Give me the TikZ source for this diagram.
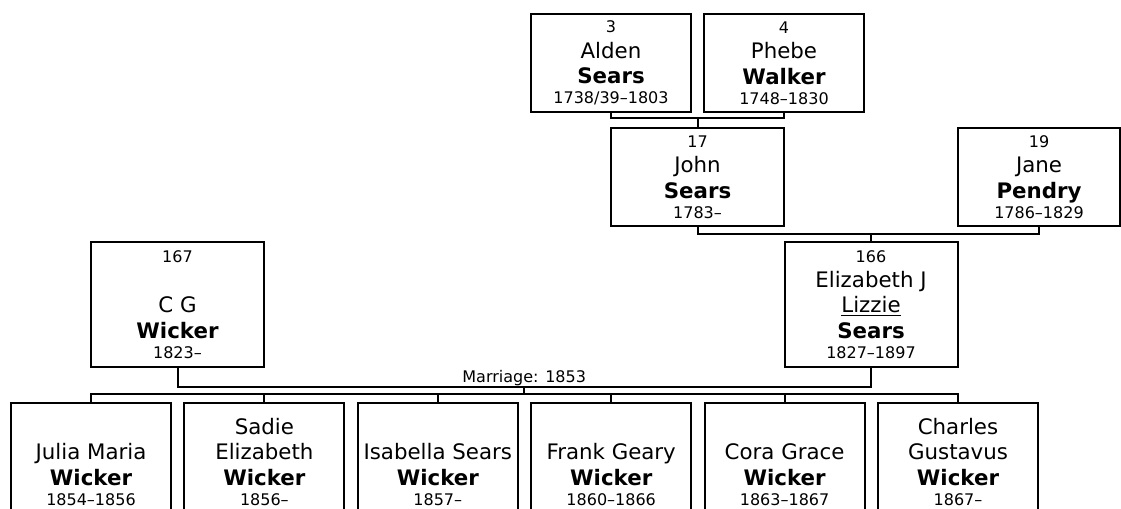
\documentclass[tikz,border=0pt]{standalone}
\usepackage{fontspec}
\setmainfont{DejaVu Sans}
\usetikzlibrary{positioning}
\newcommand{\numf}{\fontsize{12}{14}\selectfont}
\newcommand{\namef}{\fontsize{16}{19}\selectfont}
\tikzset{
  link/.style={line width=1.5pt},
  pbox/.style={draw, line width=1.5pt, align=center, inner sep=0pt, font=\namef, anchor=north},
  short/.style={pbox, minimum width=120pt, minimum height=73.5pt},
  wide/.style={pbox, minimum width=129.75pt, minimum height=73.5pt},
  tall/.style={pbox, minimum width=129.75pt, minimum height=93.75pt},
  kid/.style={pbox, minimum width=120pt, minimum height=87pt},
  lab/.style={font=\numf, inner sep=0pt},
}

\begin{document}
\begin{tikzpicture}[x=0.75pt,y=-0.75pt]
\useasboundingbox (0,0) rectangle (1121,508);

% ---- grandparents ----------------------------------------------------------
\node[short] (n3) at (611,13) {{\numf 3}\\ Alden\\ \textbf{Sears}\\[-4pt] {\numf 1738/39--1803}};
\node[short] (n4) at (784,13) {{\numf 4}\\ Phebe\\ \textbf{Walker}\\[-4pt] {\numf 1748--1830}};
% ---- parents of 166 --------------------------------------------------------
\node[wide] (n17) at (697.5,127) {{\numf 17}\\ John\\ \textbf{Sears}\\[-4pt] {\numf 1783--}};
\node[wide, minimum width=121.5pt] (n19) at (1039,127) {{\numf 19}\\ Jane\\ \textbf{Pendry}\\[-4pt] {\numf 1786--1829}};
% ---- couple ----------------------------------------------------------------
\node[tall] (n167) at (177.5,241) {{\numf 167}\\ \mbox{}\\ C G\\ \textbf{Wicker}\\[-4pt] {\numf 1823--}};
\node[tall] (n166) at (871,241) {{\numf 166}\\ Elizabeth J\\ \underline{Lizzie}\\ \textbf{Sears}\\[-4pt] {\numf 1827--1897}};
% ---- children --------------------------------------------------------------
\node[kid] (c1) at (91,402)    {\strut\\ Julia Maria\\ \textbf{Wicker}\\[-4pt] {\numf 1854--1856}};
\node[kid] (c2) at (264.4,402) {\strut Sadie\\ Elizabeth\\ \textbf{Wicker}\\[-4pt] {\numf 1856--}};
\node[kid] (c3) at (437.8,402) {\strut\\ Isabella Sears\\ \textbf{Wicker}\\[-4pt] {\numf 1857--}};
\node[kid] (c4) at (611.2,402) {\strut\\ Frank Geary\\ \textbf{Wicker}\\[-4pt] {\numf 1860--1866}};
\node[kid] (c5) at (784.6,402) {\strut\\ Cora Grace\\ \textbf{Wicker}\\[-4pt] {\numf 1863--1867}};
\node[kid] (c6) at (958,402)   {\strut Charles\\ Gustavus\\ \textbf{Wicker}\\[-4pt] {\numf 1867--}};
% ---- links -----------------------------------------------------------------
\coordinate (m34) at (697.5,118);
\coordinate (m1719) at (871,234);
\coordinate (mar) at (524.2,387);
\coordinate (sib) at (524.2,394);
\draw[link] (n3.south) |- (m34) -| (n4.south);
\draw[link] (m34) -- (n17.north);
\draw[link] (n17.south) |- (m1719) -| (n19.south);
\draw[link] (m1719) -- (n166.north);
\draw[link] (n167.south) |- (mar) -| (n166.south);
\node[lab, above=1pt of mar] (marlab) {Marriage: 1853};
\draw[link] (mar) -- (sib);
\draw[link] (c1.north) |- (sib) -| (c6.north);
\foreach \k in {c2,c3,c4,c5}
  \draw[link] (\k.north) -- (\k.north |- sib);

\end{tikzpicture}
\end{document}
